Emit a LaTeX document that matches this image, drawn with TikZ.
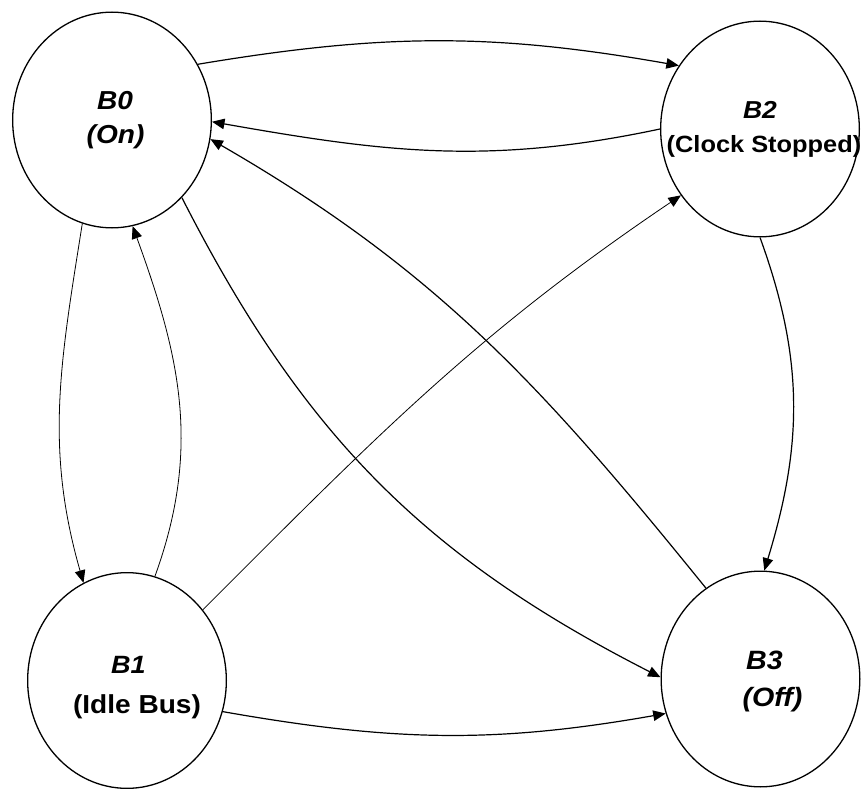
\documentclass[tikz,border=0pt]{standalone}
\usepackage{fontspec}
\newfontfamily\arialx[FakeStretch=1.08]{Liberation Sans}
\usetikzlibrary{shapes.geometric,arrows.meta}
\tikzset{
  state/.style={draw, ellipse, line width=1.3pt, minimum width=198.7pt, minimum height=215.7pt, inner sep=0pt},
  lab/.style={anchor=base, inner sep=0pt, font=\arialx\bfseries},
  thickedge/.style={line width=1.2pt, -{Triangle[length=12.5pt,width=10.5pt]}},
  thinedge/.style={line width=0.8pt, -{Triangle[length=12.5pt,width=10.5pt]}},
}
\begin{document}
\begin{tikzpicture}[x=1pt,y=1pt]
\path[use as bounding box] (0,0) rectangle (863,-789);
% states
\node[state] (B0) at (112,-120) {};
\node[state] (B2) at (760,-129) {};
\node[state] (B1) at (127,-680.5) {};
\node[state] (B3) at (760.5,-679) {};
% labels
\node[lab] (B0a) at (115,-110) {\fontsize{26}{30}\selectfont\itshape B0};
\node[lab] (B0b) at (115.5,-144) {\fontsize{26}{30}\selectfont\itshape (On)};
\node[lab] (B2a) at (760,-119) {\fontsize{24.5}{30}\selectfont\itshape B2};
\node[lab] (B2b) at (764,-152.5) {\fontsize{23.5}{30}\selectfont (Clock Stopped)};
\node[lab] (B1a) at (128.5,-673) {\fontsize{25}{30}\selectfont\itshape B1};
\node[lab] (B1b) at (137,-713) {\fontsize{26}{30}\selectfont (Idle Bus)};
\node[lab] (B3a) at (764.5,-669) {\fontsize{26.5}{30}\selectfont\itshape B3};
\node[lab] (B3b) at (772.5,-706) {\fontsize{26.5}{30}\selectfont\itshape (Off)};
% transitions
\draw[thickedge] (B0.33) to[out=9.5, in=170] (B2.142);
\draw[thickedge] (B2.180) to[out=192, in=-10] (B0.-1);
\draw[thickedge] (B2.270) to[out=-70, in=73] (B3.88);
\draw[thinedge] (B0.254) to[out=261, in=106] (B1.114);
\draw[thinedge] (B1.75.5) to[out=70, in=-70] (B0.281);
\draw[thinedge] (B1.43.5) to[out=45, in=214] (B2.220.5);
\draw[thickedge] (B0.-48) to[out=-63, in=153] (B3.179);
\draw[thickedge] (B3.121) to[out=129, in=-30] (B0.-11.8);
\draw[thickedge] (B1.-18) to[out=-10, in=190] (B3.200);
\end{tikzpicture}
\end{document}
